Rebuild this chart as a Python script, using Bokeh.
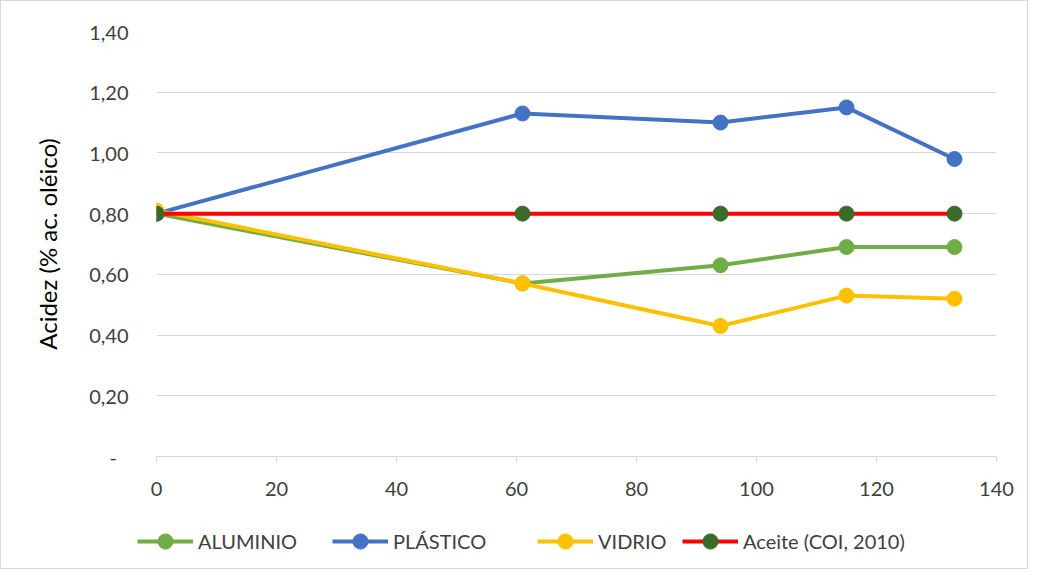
from bokeh.plotting import figure
from bokeh.layouts import column
from bokeh.models import Legend, LegendItem, CustomJSTickFormatter, Range1d, FixedTicker
from bokeh.embed import file_html
from bokeh.resources import INLINE

dias = [0, 61, 94, 115, 133]
aluminio = [0.80, 0.57, 0.63, 0.69, 0.69]
plastico = [0.80, 1.13, 1.10, 1.15, 0.98]
vidrio = [0.81, 0.57, 0.43, 0.53, 0.52]
aceite = [0.80, 0.80, 0.80, 0.80, 0.80]

series_names = ["ALUMINIO", "PLÁSTICO", "VIDRIO", "Aceite (COI, 2010)"]
x_ticks = [0, 20, 40, 60, 80, 100, 120, 140]
y_ticks = [0, 0.2, 0.4, 0.6, 0.8, 1.0, 1.2, 1.4]
y_label = "Acidez (% ac. oléico)"

FONT = "Lato"
TXT = "#404040"
W = 1026

p = figure(width=W, height=500, output_backend="svg", toolbar_location=None,
           x_range=Range1d(0, 140), y_range=Range1d(0, 1.4))
p.min_border_left = 155
p.min_border_right = 31
p.min_border_top = 30
p.min_border_bottom = 45
p.outline_line_color = None

p.xgrid.grid_line_color = None
p.ygrid.grid_line_color = "#d9d9d9"
p.ygrid.grid_line_width = 1

p.xaxis.ticker = FixedTicker(ticks=x_ticks)
p.yaxis.ticker = FixedTicker(ticks=y_ticks)
p.xaxis.axis_line_color = "#d9d9d9"
p.xaxis.major_tick_line_color = "#d9d9d9"
p.xaxis.major_tick_out = 6
p.xaxis.major_tick_in = 0
p.xaxis.minor_tick_line_color = None
p.yaxis.axis_line_color = None
p.yaxis.major_tick_line_color = None
p.yaxis.minor_tick_line_color = None
for ax in (p.xaxis, p.yaxis):
    ax.major_label_text_font = FONT
    ax.major_label_text_font_size = "20px"
    ax.major_label_text_color = TXT
p.xaxis.major_label_standoff = 19
p.yaxis.major_label_standoff = 22
p.yaxis.formatter = CustomJSTickFormatter(
    code="return tick == 0 ? '-\u2007' : tick.toFixed(2).replace('.', ',');")
p.yaxis.axis_label = y_label
p.yaxis.axis_label_text_font = FONT
p.yaxis.axis_label_text_font_size = "24px"
p.yaxis.axis_label_text_font_style = "normal"
p.yaxis.axis_label_text_color = "#000000"
p.yaxis.axis_label_standoff = 24

series_values = [aluminio, plastico, vidrio, aceite]
line_colors = ["#70ad47", "#4472c4", "#ffc000", "#ff0000"]
marker_colors = ["#70ad47", "#4472c4", "#ffc000", "#3b6b2a"]

# legend strip
lg = figure(width=W, height=67, output_backend="svg", toolbar_location=None,
            x_axis_type=None, y_axis_type=None, x_range=Range1d(0, 1), y_range=Range1d(0, 1))
lg.frame_align = False
lg.min_border_left = 0
lg.min_border_right = 0
lg.min_border_top = 0
lg.min_border_bottom = 0
lg.outline_line_color = None
lg.xgrid.grid_line_color = None
lg.ygrid.grid_line_color = None

legend_x = [136, 331, 536, 681]
for name, ys, lc, mc, lx in zip(series_names, series_values, line_colors, marker_colors, legend_x):
    p.line(dias, ys, line_color=lc, line_width=4)
    p.scatter(dias, ys, size=15, fill_color=mc, line_color=mc)
    l = lg.line(x=[-5, -4], y=[-5, -5], line_color=lc, line_width=4)
    s = lg.scatter(x=[-5], y=[-5], size=15, fill_color=mc, line_color=mc)
    leg = Legend(items=[LegendItem(label=name, renderers=[l, s])],
                 orientation="horizontal", location=(lx, 8))
    leg.label_text_font = FONT
    leg.label_text_font_size = "20px"
    leg.label_text_color = TXT
    leg.border_line_color = None
    leg.background_fill_alpha = 0
    leg.glyph_width = 56
    leg.glyph_height = 38
    leg.label_standoff = 5
    leg.padding = 0
    leg.margin = 0
    lg.add_layout(leg, "center")

layout = column(p, lg, spacing=0)
layout.styles = {"border": "1px solid #d9d9d9"}

open("out.html", "w").write(file_html(layout, INLINE))
